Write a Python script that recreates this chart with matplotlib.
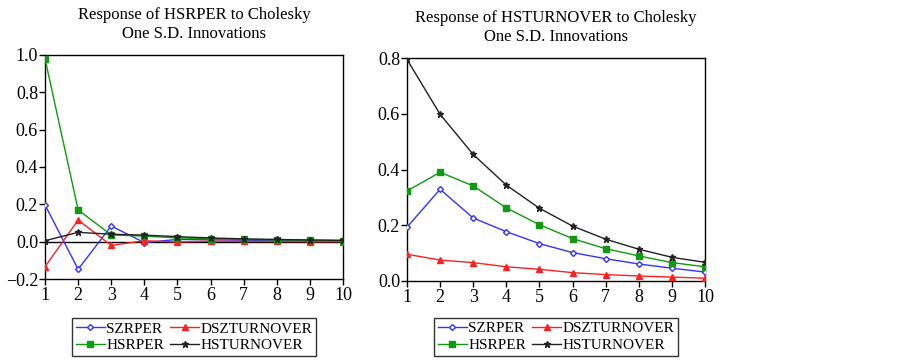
import matplotlib
matplotlib.use("Agg")
import matplotlib.pyplot as plt

plt.rcParams["font.family"] = ["Liberation Serif", "DejaVu Serif"]

periods = [1, 2, 3, 4, 5, 6, 7, 8, 9, 10]

# Response of HSRPER
hsrper_szrper = [0.197, -0.148, 0.084, -0.005, 0.012, 0.010, 0.008, 0.006, 0.005, 0.004]
hsrper_dszturnover = [-0.134, 0.116, -0.020, 0.005, -0.002, 0.003, 0.001, 0.001, 0.0, 0.0]
hsrper_hsrper = [0.980, 0.170, 0.036, 0.030, 0.020, 0.015, 0.012, 0.010, 0.008, 0.006]
hsrper_hsturnover = [0.005, 0.050, 0.040, 0.035, 0.027, 0.020, 0.015, 0.012, 0.009, 0.007]

# Response of HSTURNOVER
hst_szrper = [0.193, 0.329, 0.226, 0.177, 0.134, 0.102, 0.080, 0.061, 0.046, 0.032]
hst_dszturnover = [0.096, 0.075, 0.066, 0.051, 0.042, 0.030, 0.023, 0.018, 0.014, 0.010]
hst_hsrper = [0.323, 0.390, 0.341, 0.262, 0.202, 0.152, 0.116, 0.090, 0.066, 0.051]
hst_hsturnover = [0.795, 0.598, 0.454, 0.344, 0.261, 0.197, 0.150, 0.114, 0.085, 0.067]

series_names = ["SZRPER", "DSZTURNOVER", "HSRPER", "HSTURNOVER"]
styles = [
    dict(color="#3333ff", marker="D", markersize=3, markerfacecolor="white"),
    dict(color="#ff2020", marker="^", markersize=4.5),
    dict(color="#119911", marker="s", markersize=4),
    dict(color="#222222", marker="*", markersize=5),
]

fig = plt.figure(figsize=(9.02, 3.63), dpi=100)
ax1 = fig.add_axes([0.0499, 0.2314, 0.3304, 0.6171])
ax2 = fig.add_axes([0.4512, 0.2259, 0.3304, 0.6143])


def draw_panel(ax, data, title, ylim, yticks, ylabels, zero_line, leg_y):
    if zero_line:
        ax.axhline(0, color="black", lw=1, zorder=1)
    lines = []
    for name, vals, st in zip(series_names, data, styles):
        ln, = ax.plot(periods, vals, lw=1, label=name, zorder=3, **st)
        lines.append(ln)
    ax.set_xlim(1, 10)
    ax.set_ylim(*ylim)
    ax.set_xticks(periods)
    ax.set_yticks(yticks)
    ax.set_yticklabels(ylabels)
    ax.tick_params(direction="out", length=4, width=1, labelsize=13, pad=2)
    ax.tick_params(axis="y", pad=1)
    for sp in ax.spines.values():
        sp.set_linewidth(1)
    ax.set_title(title, fontsize=12, pad=12, linespacing=1.3)
    # legend fills column-wise, so reorder to get rows SZRPER/DSZTURNOVER, HSRPER/HSTURNOVER
    order = [0, 2, 1, 3]
    leg = ax.legend([lines[i] for i in order], [series_names[i] for i in order],
                    loc="upper center", bbox_to_anchor=(0.5, leg_y), ncol=2,
                    fontsize=11, frameon=True, fancybox=False, edgecolor="black",
                    handlelength=1.9, handletextpad=0.1, columnspacing=0.4,
                    labelspacing=0.2, borderpad=0.25, borderaxespad=0)
    leg.get_frame().set_linewidth(1)


draw_panel(ax1, [hsrper_szrper, hsrper_dszturnover, hsrper_hsrper, hsrper_hsturnover],
           "Response of HSRPER to Cholesky\nOne S.D. Innovations",
           (-0.2, 1.0), [-0.2, 0.0, 0.2, 0.4, 0.6, 0.8, 1.0],
           ["\u22120.2", "0.0", "0.2", "0.4", "0.6", "0.8", "1.0"], True, -0.175)
draw_panel(ax2, [hst_szrper, hst_dszturnover, hst_hsrper, hst_hsturnover],
           "Response of HSTURNOVER to Cholesky\nOne S.D. Innovations",
           (0.0, 0.8), [0.0, 0.2, 0.4, 0.6, 0.8],
           ["0.0", "0.2", "0.4", "0.6", "0.8"], False, -0.165)

fig.savefig("out.png", dpi=100)
